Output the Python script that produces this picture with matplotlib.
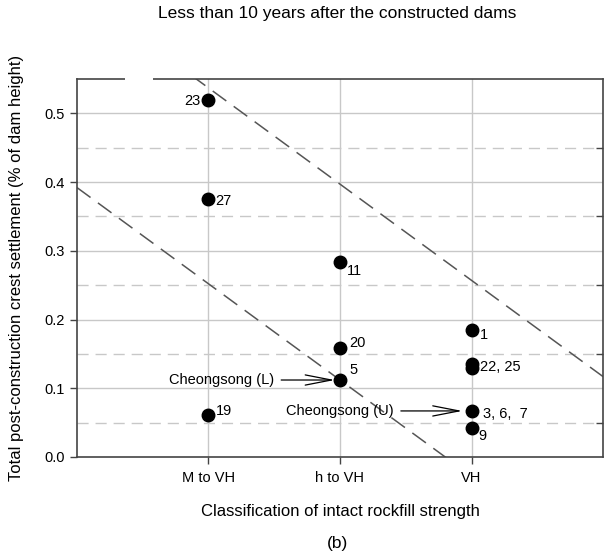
import matplotlib
matplotlib.use("Agg")
import matplotlib.pyplot as plt
from matplotlib.patches import Rectangle

plt.rcParams['font.family'] = ['Liberation Sans', 'DejaVu Sans']

categories = ["M to VH", "h to VH", "VH"]
point_cat = [1, 1, 1, 2, 2, 2, 3, 3, 3, 3, 3]
point_val = [0.520, 0.375, 0.061, 0.283, 0.158, 0.112, 0.185, 0.135, 0.129, 0.067, 0.042]
point_lab = ["23", "27", "19", "11", "20", "5", "1", "22, 25", "", "3, 6,  7", "9"]
# label offsets in points (dx, dy), ha
label_off = [(-6, -1, 'right'), (5, -1, 'left'), (5, 3, 'left'), (5, -6, 'left'),
             (7, 4, 'left'), (7, 7, 'left'), (6, -4, 'left'), (6, -2, 'left'),
             (0, 0, 'left'), (8, -2, 'left'), (5, -6, 'left')]
line_slope = -0.14
upper_intercept = 0.677
lower_intercept = 0.392

fig = plt.figure(figsize=(6.08, 5.55), dpi=100)
ax = fig.add_axes([0.1266, 0.1766, 0.8652, 0.6811])
ax.set_xlim(0, 4)
ax.set_ylim(0, 0.55)

gc = '#c8c8c8'
for y in [0.1, 0.2, 0.3, 0.4, 0.5]:
    ax.axhline(y, color=gc, lw=1.0, zorder=0)
for y in [0.05, 0.15, 0.25, 0.35, 0.45]:
    ax.axhline(y, color=gc, lw=1.0, ls=(0, (8, 5)), zorder=0)
for x in [1, 2, 3]:
    ax.axvline(x, color=gc, lw=1.0, zorder=0)

xs = [0, 4]
ax.plot(xs, [upper_intercept + line_slope * x for x in xs], color='#555555', lw=1.1,
        ls=(0, (11, 6)), zorder=1)
ax.plot(xs, [lower_intercept + line_slope * x for x in xs], color='#555555', lw=1.1,
        ls=(0, (11, 6)), zorder=1)

ax.plot(point_cat, point_val, 'o', color='black', ms=9, zorder=3, clip_on=False)
for x, y, lab, (dx, dy, ha) in zip(point_cat, point_val, point_lab, label_off):
    if lab:
        ax.annotate(lab, (x, y), xytext=(dx, dy), textcoords='offset points',
                    ha=ha, va='center', fontsize=10.5)

ax.annotate("Cheongsong (L)", xy=(1.96, 0.112), xytext=(1.5, 0.112),
            ha='right', va='center', fontsize=10.5,
            arrowprops=dict(arrowstyle='->,head_length=1.8,head_width=0.35', color='black', lw=0.9,
                            shrinkA=3, shrinkB=0))
ax.annotate("Cheongsong (U)", xy=(2.93, 0.067), xytext=(2.41, 0.067),
            ha='right', va='center', fontsize=10.5,
            arrowprops=dict(arrowstyle='->,head_length=1.8,head_width=0.35', color='black', lw=0.9,
                            shrinkA=3, shrinkB=0))

ax.set_xticks([1, 2, 3])
ax.set_xticklabels(categories, fontsize=10.5)
ax.set_yticks([0.0, 0.1, 0.2, 0.3, 0.4, 0.5])
ax.set_yticklabels(["0.0", "0.1", "0.2", "0.3", "0.4", "0.5"], fontsize=10.5)
ax.set_yticks([0.05, 0.15, 0.25, 0.35, 0.45], minor=True)
ax.tick_params(axis='x', length=5, width=1, color='#444444', pad=5)
ax.tick_params(axis='y', which='major', length=5, width=1, color='#444444', left=True, right=False)
ax.tick_params(axis='y', which='minor', length=5, width=1, color='#444444', left=False, right=True, direction='in')
for s in ax.spines.values():
    s.set_color('#444444')
    s.set_linewidth(1.2)

ax.set_xlabel("Classification of intact rockfill strength", fontsize=12, labelpad=14)
ax.set_ylabel("Total post-construction crest settlement (% of dam height)", fontsize=12, labelpad=15)
fig.text(0.555, 0.975, "Less than 10 years after the constructed dams", ha='center', va='center', fontsize=12.5)
fig.text(0.555, 0.0216, "(b)", ha='center', va='center', fontsize=12.5)

# artifact: gap in the top spine
fig.patches.append(Rectangle((125/608, (555-83)/555), 28/608, 8/555, transform=fig.transFigure,
                             facecolor='white', edgecolor='none', zorder=5))

fig.savefig("out.png", dpi=100)
